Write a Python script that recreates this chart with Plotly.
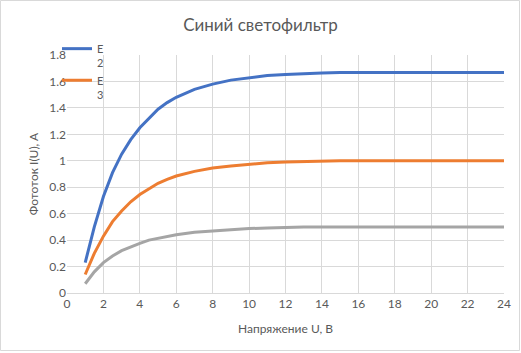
import plotly.graph_objects as go

U = [1, 1.5, 2, 2.5, 3, 3.5, 4, 4.5, 5, 5.5, 6, 7, 8, 9, 10, 11, 12, 13, 14, 15, 16, 17, 18, 19, 20, 21, 22, 23, 24]
E2 = [0.23, 0.50, 0.73, 0.91, 1.05, 1.16, 1.25, 1.32, 1.39, 1.44, 1.48, 1.54, 1.58, 1.61, 1.63, 1.645, 1.652, 1.66, 1.663,
      1.667, 1.667, 1.667, 1.667, 1.667, 1.667, 1.667, 1.667, 1.667, 1.667]
E3 = [0.14, 0.30, 0.43, 0.54, 0.62, 0.69, 0.745, 0.79, 0.83, 0.86, 0.885, 0.92, 0.945, 0.96, 0.975, 0.985, 0.99, 0.995, 1.0,
      1.0, 1.0, 1.0, 1.0, 1.0, 1.0, 1.0, 1.0, 1.0, 1.0]
E4 = [0.07, 0.16, 0.23, 0.28, 0.32, 0.35, 0.375, 0.40, 0.415, 0.43, 0.44, 0.46, 0.47, 0.48, 0.487, 0.492, 0.497, 0.5, 0.5,
      0.5, 0.5, 0.5, 0.5, 0.5, 0.5, 0.5, 0.5, 0.5, 0.5]

names = ["E<br>2", "E<br>3", ""]
colors = ["#4472C4", "#ED7D31", "#A5A5A5"]
series = [E2, E3, E4]

FONT = "Lato"
GRAY = "#595959"

fig = go.Figure()
for i, (vals, name, col) in enumerate(zip(series, names, colors)):
    fig.add_trace(go.Scatter(
        x=U, y=vals, mode="lines", name=name,
        line=dict(color=col, width=3),
        showlegend=(i < 2),
    ))

W, H = 521, 353
ml, mr, mt, mb = 67, 17, 55, 60
pw, ph = W - ml - mr, H - mt - mb

fig.update_layout(
    width=W, height=H,
    margin=dict(l=ml, r=mr, t=mt, b=mb, autoexpand=False),
    paper_bgcolor="white", plot_bgcolor="white",
    font=dict(family=FONT, color=GRAY, size=12),
    title=dict(text="Синий светофильтр", x=0.5, xanchor="center", y=1 - 25 / H, yanchor="middle",
               font=dict(size=17, color=GRAY, family=FONT)),
    legend=dict(x=-10 / pw, xanchor="left", y=1 + 20 / ph, yanchor="top",
                bgcolor="rgba(0,0,0,0)", valign="top", font=dict(size=11, color=GRAY),
                tracegroupgap=0),
    xaxis=dict(range=[0, 24], dtick=2, tick0=0, showgrid=True, gridcolor="#D9D9D9", gridwidth=1,
               zeroline=False, showline=True, linecolor="#D9D9D9", ticks="", mirror=False,
               title=dict(text="Напряжение U, В", font=dict(size=12, color=GRAY), standoff=14),
               tickfont=dict(size=12, color=GRAY)),
    yaxis=dict(range=[0, 1.8], dtick=0.2, tick0=0, showgrid=True, gridcolor="#D9D9D9", gridwidth=1,
               zeroline=False, showline=False, ticks="",
               title=dict(text="Фототок I(U), A", font=dict(size=12, color=GRAY), standoff=8),
               tickfont=dict(size=12, color=GRAY)),
)

fig.add_shape(type="rect", xref="paper", yref="paper",
              x0=-(ml - 0.5) / pw, x1=1 + (mr - 1.5) / pw,
              y0=-(mb - 2.5) / ph, y1=1 + (mt - 0.5) / ph,
              line=dict(color="#D9D9D9", width=1), fillcolor="rgba(0,0,0,0)", layer="below")

fig.write_html("out.html")
